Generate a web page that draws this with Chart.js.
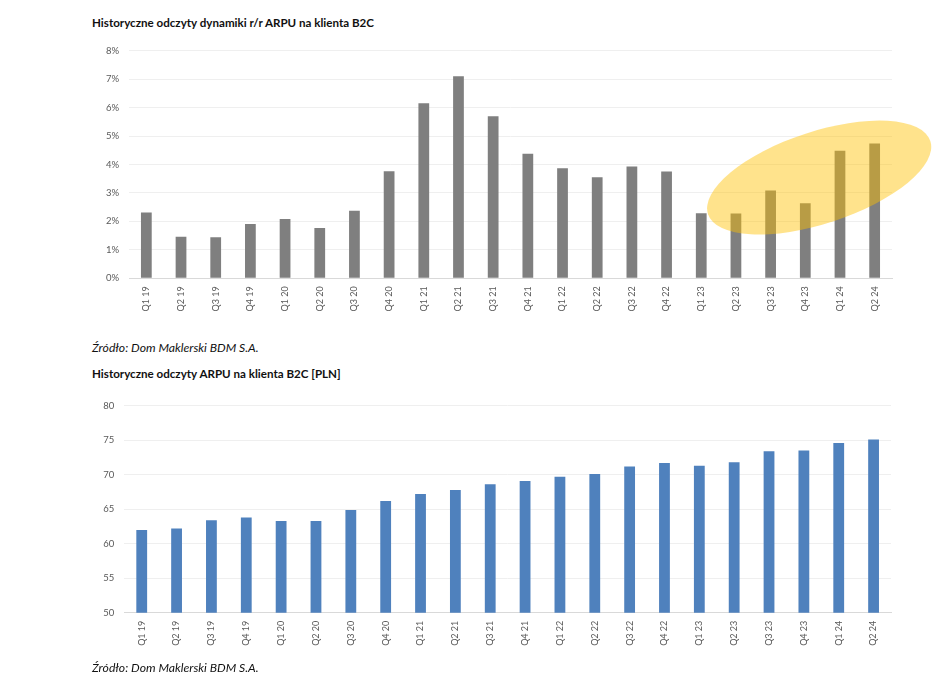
<!DOCTYPE html>
<html>
<head>
<meta charset="utf-8">
<script src="https://cdn.jsdelivr.net/npm/chart.js@4"></script>
<style>
  html, body { margin:0; padding:0; background:#fff; }
  body { width:948px; height:686px; position:relative; overflow:hidden; font-family: Lato, "Open Sans", sans-serif; }
  .t { position:absolute; left:92px; line-height:14px; white-space:nowrap; color:#111; }
  .title { font-weight:bold; font-size:11.6px; }
  .src { font-style:italic; font-size:12.2px; }
  canvas { position:absolute; }
</style>
</head>
<body>
<div class="t title" style="top:16px">Historyczne odczyty dynamiki r/r ARPU na klienta B2C</div>
<canvas id="c1" width="860" height="305" style="left:80px;top:35px;width:860px;height:305px"></canvas>
<div class="t src" style="top:341px">Źródło: Dom Maklerski BDM S.A.</div>
<div class="t title" style="top:366.5px">Historyczne odczyty ARPU na klienta B2C [PLN]</div>
<canvas id="c2" width="860" height="280" style="left:80px;top:390px;width:860px;height:280px"></canvas>
<div class="t src" style="top:661px">Źródło: Dom Maklerski BDM S.A.</div>
<script>
// ---- data ----
const quarters = ["Q1 19","Q2 19","Q3 19","Q4 19","Q1 20","Q2 20","Q3 20","Q4 20",
                  "Q1 21","Q2 21","Q3 21","Q4 21","Q1 22","Q2 22","Q3 22","Q4 22",
                  "Q1 23","Q2 23","Q3 23","Q4 23","Q1 24","Q2 24"];
// y/y ARPU growth, %
const arpuGrowthPct = [2.31,1.46,1.44,1.91,2.08,1.77,2.37,3.76,
                       6.15,7.10,5.70,4.38,3.87,3.55,3.93,3.75,
                       2.29,2.28,3.09,2.64,4.48,4.74];
// ARPU, PLN
const arpuPln = [62.0,62.2,63.4,63.8,63.3,63.3,64.9,66.2,
                 67.2,67.8,68.6,69.1,69.7,70.1,71.2,71.7,
                 71.3,71.8,73.4,73.5,74.6,75.1];
const growthTicks = {min:0, max:8, step:1};
const arpuTicks = {min:50, max:80, step:5};
// highlight ellipse (centre in data units)
const highlight = {index:19.4, value:3.54};

const tickColor = '#595959';
const tickFont = {family:'Lato', size:9.5};
const xFont = {family:'Lato', size:9};

const ellipsePlugin = {
  id:'ellipse',
  afterDatasetsDraw(chart){
    const ctx = chart.ctx;
    const x = chart.scales.x.getPixelForValue(highlight.index);
    const y = chart.scales.y.getPixelForValue(highlight.value);
    ctx.save();
    ctx.fillStyle = 'rgba(255,192,0,0.45)';
    ctx.beginPath();
    ctx.ellipse(x, y, 117, 46, -18.2*Math.PI/180, 0, Math.PI*2);
    ctx.fill();
    ctx.restore();
  }
};

function makeChart(id, values, color, yt, yFmt, pad, yWidth, xHeight, plugins){
  return new Chart(document.getElementById(id), {
    type:'bar',
    data:{labels:quarters, datasets:[{data:values, backgroundColor:color, barPercentage:0.31, categoryPercentage:1}]},
    options:{
      responsive:false, animation:false,
      layout:{padding:pad},
      plugins:{legend:{display:false}, tooltip:{enabled:false}},
      scales:{
        x:{
          grid:{display:false, drawTicks:false},
          border:{display:true, color:'#D9D9D9', width:1},
          ticks:{autoSkip:false, minRotation:90, maxRotation:90, padding:8, color:tickColor, font:xFont},
          afterFit(s){ s.height = xHeight; }
        },
        y:{
          min:yt.min, max:yt.max,
          ticks:{stepSize:yt.step, padding:10, color:tickColor, font:tickFont, callback:yFmt},
          grid:{color:'#EFEFEF', drawTicks:false},
          border:{display:false},
          afterFit(s){ s.width = yWidth; }
        }
      }
    },
    plugins:plugins
  });
}

makeChart('c1', arpuGrowthPct, '#7F7F7F', growthTicks, v => v + '%',
          {left:0, right:48, top:15.7, bottom:0}, 49, 61.7, [ellipsePlugin]);
makeChart('c2', arpuPln, '#4F81BD', arpuTicks, v => v,
          {left:0, right:49, top:15.7, bottom:0}, 44.3, 57.3, []);
</script>
</body>
</html>
